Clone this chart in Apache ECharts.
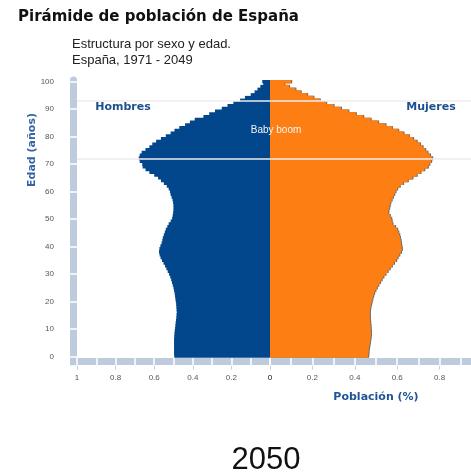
<!DOCTYPE html>
<html>
<head>
<meta charset="utf-8">
<script src="https://cdn.jsdelivr.net/npm/echarts@6/dist/echarts.min.js"></script>
<style>
  html, body { margin: 0; padding: 0; background: #fff; }
  #chart { width: 471px; height: 476px; }
</style>
</head>
<body>
<div id="chart"></div>
<script>
// ages 0..100 (100 = 100 y más)
const ages = Array.from({ length: 101 }, (_, i) => String(i));

// % of population, index = age
const hombres = [
  0.496, 0.497, 0.497, 0.497, 0.497, 0.497, 0.497, 0.496, 0.495, 0.494,
  0.492, 0.490, 0.489, 0.487, 0.485, 0.484, 0.483, 0.484, 0.485, 0.486,
  0.488, 0.490, 0.492, 0.494, 0.497, 0.500, 0.504, 0.508, 0.512, 0.517,
  0.523, 0.530, 0.537, 0.544, 0.552, 0.560, 0.567, 0.572, 0.575, 0.573,
  0.568, 0.562, 0.558, 0.555, 0.550, 0.545, 0.540, 0.532, 0.525, 0.515,
  0.507, 0.504, 0.502, 0.500, 0.500, 0.500, 0.502, 0.505, 0.510, 0.515,
  0.518, 0.525, 0.535, 0.550, 0.565, 0.580, 0.600, 0.625, 0.645, 0.660,
  0.662, 0.675, 0.680, 0.675, 0.665, 0.645, 0.625, 0.610, 0.590, 0.565,
  0.540, 0.515, 0.495, 0.470, 0.440, 0.415, 0.390, 0.345, 0.315, 0.285,
  0.250, 0.220, 0.190, 0.155, 0.130, 0.100, 0.080, 0.065, 0.050, 0.035,
  0.040
];

const mujeres = [
  0.463, 0.464, 0.465, 0.467, 0.469, 0.471, 0.473, 0.475, 0.476, 0.476,
  0.475, 0.474, 0.473, 0.472, 0.471, 0.471, 0.471, 0.472, 0.474, 0.477,
  0.480, 0.483, 0.487, 0.491, 0.497, 0.504, 0.511, 0.519, 0.527, 0.535,
  0.545, 0.555, 0.565, 0.575, 0.585, 0.595, 0.602, 0.610, 0.618, 0.622,
  0.620, 0.618, 0.616, 0.613, 0.610, 0.605, 0.600, 0.590, 0.578, 0.574,
  0.572, 0.565, 0.558, 0.558, 0.562, 0.565, 0.568, 0.574, 0.580, 0.586,
  0.592, 0.600, 0.612, 0.628, 0.650, 0.672, 0.692, 0.710, 0.728, 0.745,
  0.752, 0.760, 0.765, 0.755, 0.743, 0.732, 0.720, 0.708, 0.692, 0.675,
  0.655, 0.630, 0.605, 0.575, 0.545, 0.510, 0.475, 0.440, 0.405, 0.370,
  0.335, 0.300, 0.265, 0.235, 0.205, 0.175, 0.145, 0.120, 0.090, 0.068,
  0.100
];

// generaciones del baby boom (1957-1977)
const boomLines = ['72', '93'];

const BLUE = '#02468c';
const ORANGE = '#fd7f14';
const SHADOW = '#6a6a6a';
const BAND = '#bdcbdc';
const TICK_TXT = '#555';
// bars a bit taller than a category band so neighbours overlap (no seams)
const BAR_W = 4;

const chart = echarts.init(document.getElementById('chart'));

const fmtX = (v) => {
  const r = Math.round(v * 10);
  if (r % 2 !== 0) return '';
  return r === 10 ? '1' : String(r / 10);
};

// three stacked x axes per side: band, white breaks, small ticks + labels
function sideAxes(gridIndex, inverse) {
  const base = { gridIndex, type: 'value', min: 0, max: 1, inverse, position: 'bottom', splitLine: { show: false } };
  return [
    { ...base, offset: 4,
      axisLine: { show: true, onZero: false, lineStyle: { color: BAND, width: 7 } },
      axisTick: { show: false }, axisLabel: { show: false } },
    { ...base, offset: 0, interval: 0.1,
      axisLine: { show: false, onZero: false },
      axisTick: { show: true, length: 8, lineStyle: { color: '#fff', width: 1.5 } },
      axisLabel: { show: false } },
    { ...base, offset: 8, interval: 0.2,
      axisLine: { show: false, onZero: false },
      axisTick: { show: true, length: 4, lineStyle: { color: '#c5d1de', width: 1 } },
      axisLabel: { show: true, formatter: fmtX, fontSize: 8, color: TICK_TXT,
        fontFamily: 'Liberation Sans', margin: 8 } },
  ];
}

const boomMark = {
  silent: true,
  symbol: 'none',
  label: { show: false },
  lineStyle: { color: '#ececec', width: 1.5, type: 'solid' },
  data: boomLines.map((a) => ({ yAxis: a })),
};

const option = {
  backgroundColor: '#fff',
  animation: false,
  grid: [
    { left: 77, right: 201, top: 80, bottom: 118.3, outerBoundsMode: 'none' },
    // right half runs past the canvas edge, as in the original
    { left: 270, right: -11, top: 80, bottom: 118.3, outerBoundsMode: 'none' },
    // same as grid 1 moved 1px right: thin shadow on the female side
    { left: 271, right: -12, top: 80, bottom: 118.3, outerBoundsMode: 'none' },
  ],
  xAxis: [
    ...sideAxes(0, true),
    ...sideAxes(1, false),
    { gridIndex: 2, type: 'value', min: 0, max: 1, show: false },
  ],
  yAxis: [
    { gridIndex: 0, type: 'category', data: ages, position: 'left', offset: 3.5,
      axisLine: { show: true, onZero: false, lineStyle: { color: BAND, width: 7 } },
      axisTick: { show: false }, axisLabel: { show: false } },
    { gridIndex: 0, type: 'category', data: ages, position: 'left', offset: 0,
      axisLine: { show: false, onZero: false },
      axisTick: { show: true, interval: 9, alignWithLabel: true, length: 7,
        lineStyle: { color: '#fff', width: 1.5 } },
      axisLabel: { show: true, interval: 9, fontSize: 8, color: TICK_TXT,
        fontFamily: 'Liberation Sans', margin: 23 } },
    { gridIndex: 1, type: 'category', data: ages, show: false },
    { gridIndex: 2, type: 'category', data: ages, show: false },
  ],
  series: [
    {
      name: 'sombra', type: 'bar', xAxisIndex: 6, yAxisIndex: 3, silent: true,
      data: mujeres, barWidth: BAR_W,
      itemStyle: { color: SHADOW },
    },
    {
      name: 'Hombres', type: 'bar', xAxisIndex: 0, yAxisIndex: 0,
      data: hombres, barWidth: BAR_W,
      itemStyle: { color: BLUE },
      markLine: boomMark,
    },
    {
      name: 'Mujeres', type: 'bar', xAxisIndex: 3, yAxisIndex: 2,
      data: mujeres, barWidth: BAR_W,
      itemStyle: { color: ORANGE },
      markLine: boomMark,
    },
  ],
  graphic: [
    { type: 'text', x: 18, y: 17,
      style: { text: 'Pirámide de población de España', font: 'bold 15px "DejaVu Sans"', fill: '#111',
        textAlign: 'left', textVerticalAlign: 'middle' } },
    { type: 'text', x: 72, y: 44,
      style: { text: 'Estructura por sexo y edad.', font: '13px "Liberation Sans"', fill: '#222',
        textAlign: 'left', textVerticalAlign: 'middle' } },
    { type: 'text', x: 72, y: 60,
      style: { text: 'España, 1971 - 2049', font: '13px "Liberation Sans"', fill: '#222',
        textAlign: 'left', textVerticalAlign: 'middle' } },
    { type: 'rect', shape: { x: 70, y: 358.2, width: 7, height: 7 }, style: { fill: BAND } },
    { type: 'text', x: 123, y: 107, z: 10,
      style: { text: 'Hombres', font: 'bold 11px "DejaVu Sans"', fill: '#1b4f8f',
        textAlign: 'center', textVerticalAlign: 'middle' } },
    { type: 'text', x: 431, y: 107, z: 10,
      style: { text: 'Mujeres', font: 'bold 11px "DejaVu Sans"', fill: '#1b4f8f',
        textAlign: 'center', textVerticalAlign: 'middle' } },
    { type: 'text', x: 276, y: 130, z: 10,
      style: { text: 'Baby boom', font: '10px "Liberation Sans"', fill: '#f4f4f4',
        textAlign: 'center', textVerticalAlign: 'middle' } },
    { type: 'text', x: 32, y: 150, rotation: Math.PI / 2, z: 10,
      style: { text: 'Edad (años)', font: 'bold 11px "DejaVu Sans"', fill: '#3565a6',
        textAlign: 'center', textVerticalAlign: 'middle' } },
    { type: 'text', x: 376, y: 397, z: 10,
      style: { text: 'Población (%)', font: 'bold 11px "DejaVu Sans"', fill: '#1f5596',
        textAlign: 'center', textVerticalAlign: 'middle' } },
    { type: 'text', x: 266, y: 460, z: 10,
      style: { text: '2050', font: '31px "Liberation Sans"', fill: '#111',
        textAlign: 'center', textVerticalAlign: 'middle' } },
  ],
};

chart.setOption(option);
</script>
</body>
</html>
